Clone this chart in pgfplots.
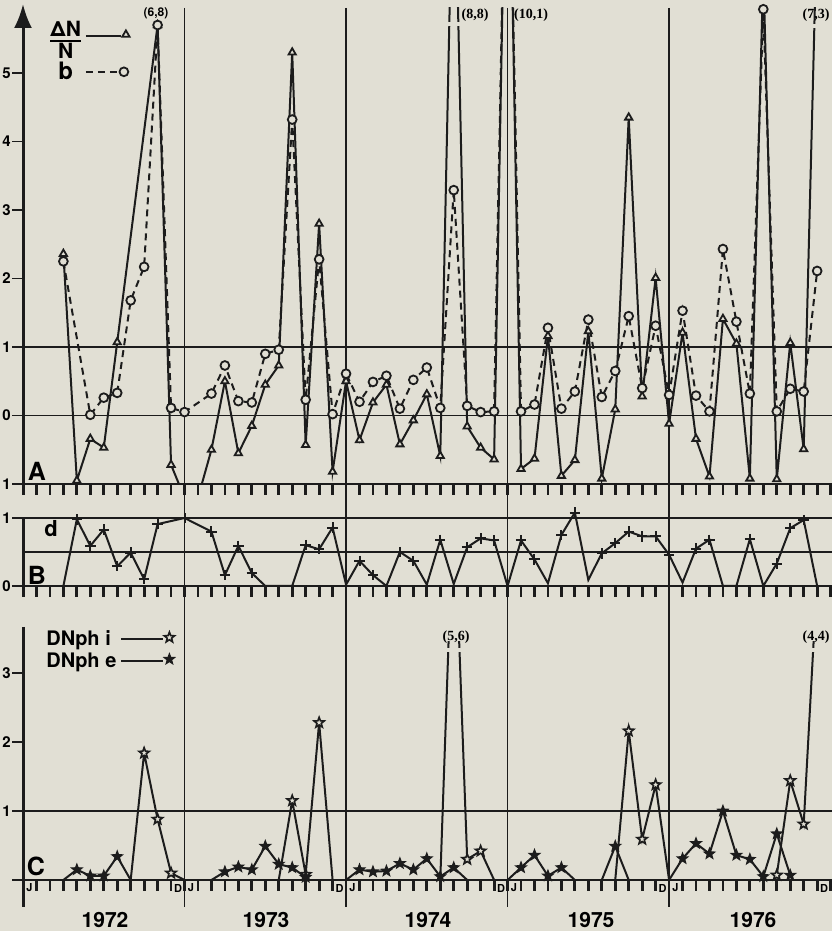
\documentclass[border=0pt]{standalone}
\usepackage{pgfplots}
\pgfplotsset{compat=1.18}
\usepackage{pgfplotstable}
\usepackage{fontspec}
\setmainfont{TeX Gyre Heros}
\newfontfamily\serifb{Liberation Serif}
\usetikzlibrary{arrows.meta}
\definecolor{bg}{RGB}{225,223,212}
\definecolor{ink}{RGB}{28,28,28}

\pgfdeclareplotmark{pstar}{%
 \pgfpathmoveto{\pgfpointpolar{90}{\pgfplotmarksize}}%
 \pgfpathlineto{\pgfpointpolar{126}{0.42\pgfplotmarksize}}%
 \pgfpathlineto{\pgfpointpolar{162}{\pgfplotmarksize}}%
 \pgfpathlineto{\pgfpointpolar{198}{0.42\pgfplotmarksize}}%
 \pgfpathlineto{\pgfpointpolar{234}{\pgfplotmarksize}}%
 \pgfpathlineto{\pgfpointpolar{270}{0.42\pgfplotmarksize}}%
 \pgfpathlineto{\pgfpointpolar{306}{\pgfplotmarksize}}%
 \pgfpathlineto{\pgfpointpolar{342}{0.42\pgfplotmarksize}}%
 \pgfpathlineto{\pgfpointpolar{18}{\pgfplotmarksize}}%
 \pgfpathlineto{\pgfpointpolar{54}{0.42\pgfplotmarksize}}%
 \pgfpathclose
 \pgfusepathqfillstroke
}

\pgfplotsset{
 legtri/.style={legend image code/.code={\draw[ink,line width=1pt] (0pt,0pt) -- (17.5pt,0pt);
     \draw[##1] plot coordinates {(20pt,0.8pt)};}},
 legcirc/.style={legend image code/.code={\draw[ink,line width=1pt,dash pattern=on 3.5pt off 2.5pt] (0pt,0pt) -- (16pt,0pt);
     \draw[##1] plot coordinates {(19pt,0pt)};}},
 legstar/.style={legend image code/.code={\draw[ink,line width=1pt] (0pt,0pt) -- (21pt,0pt);
     \draw[##1] plot coordinates {(24pt,1pt)};}},
 panel/.style={hide axis, x=6.73pt, xmin=0, xmax=60,
  enlargelimits=false, clip mode=individual, anchor=south west,
  unbounded coords=jump}
}

% month index k = 12*(year-1972) + (month-1)
\pgfplotstableread{
k v
3 2.36
4 -0.95
5 -0.34
6 -0.47
7 1.07
10 5.7
11 -0.72
12 -1.2
13 -1.2
14 -0.5
15 0.5
16 -0.55
17 -0.15
18 0.45
19 0.73
20 5.3
21 -0.43
22 2.8
23 -0.82
24 0.5
25 -0.36
26 0.19
27 0.45
28 -0.42
29 -0.07
30 0.31
31 -0.59
32 8.8
33 -0.16
34 -0.47
35 -0.64
36 10.1
37 -0.78
38 -0.63
39 1.16
40 -0.88
41 -0.65
42 1.23
43 -0.92
44 0.09
45 4.35
46 0.28
47 2.01
48 -0.12
49 1.21
50 -0.34
51 -0.89
52 1.41
53 1.05
54 -0.92
55 6.5
56 -0.93
57 1.06
58 -0.49
59 7.3
}\dN

\pgfplotstableread{
k v
3 2.25
5 0.01
6 0.26
7 0.33
8 1.68
9 2.17
10 5.7
11 0.11
12 0.05
14 0.32
15 0.73
16 0.21
17 0.19
18 0.9
19 0.96
20 4.32
21 0.23
22 2.28
23 0.02
24 0.61
25 0.2
26 0.49
27 0.58
28 0.1
29 0.52
30 0.7
31 0.11
32 3.29
33 0.14
34 0.05
35 0.06
36 10.1
37 0.06
38 0.16
39 1.28
40 0.1
41 0.35
42 1.4
43 0.27
44 0.65
45 1.45
46 0.4
47 1.31
48 0.3
49 1.53
50 0.29
51 0.06
52 2.43
53 1.37
54 0.32
55 5.93
56 0.06
57 0.39
58 0.35
59 2.11
}\bb

\pgfplotstableread{
k v m
3 0 0
4 0.98 1
5 0.59 1
6 0.83 1
7 0.29 1
8 0.49 1
9 0.1 1
10 0.91 1
12 1.0 1
14 0.8 1
15 0.16 1
16 0.59 1
17 0.19 1
18 0 0
20 0 0
21 0.6 1
22 0.54 1
23 0.86 1
24 0.02 0
25 0.37 1
26 0.16 1
27 0 0
28 0.5 1
29 0.37 1
30 0.02 0
31 0.68 1
32 0.03 0
33 0.57 1
34 0.7 1
35 0.67 1
36 0 0
37 0.67 1
38 0.39 1
39 0.04 0
40 0.75 1
41 1.08 1
42 0.09 0
43 0.48 1
44 0.63 1
45 0.8 1
46 0.73 1
47 0.73 1
48 0.46 1
49 0.05 0
50 0.55 1
51 0.68 1
52 0 0
53 0 0
54 0.69 1
55 0 0
56 0.33 1
57 0.85 1
58 0.97 1
59 0 0
}\dd

\pgfplotstableread{
k v m
3 0 0
4 0.15 1
5 0.06 1
6 0.06 1
7 0.34 1
8 0 0
nan nan 0
14 0 0
15 0.12 1
16 0.19 1
17 0.15 1
18 0.49 1
19 0.23 1
20 0.18 1
21 0.04 1
nan nan 0
24 0 0
25 0.15 1
26 0.12 1
27 0.13 1
28 0.24 1
29 0.15 1
30 0.31 1
31 0.05 1
32 0.18 1
33 0 0
nan nan 0
36 0 0
37 0.18 1
38 0.36 1
39 0.06 1
40 0.18 1
41 0 0
nan nan 0
43 0 0
44 0.49 1
45 0 0
nan nan 0
48 0 0
49 0.31 1
50 0.53 1
51 0.38 1
52 1.0 1
53 0.36 1
54 0.3 1
55 0.05 1
56 0.67 1
57 0.07 1
}\De

\pgfplotstableread{
k v m
8 0 0
9 1.84 1
10 0.88 1
11 0.1 1
12 0 0
nan nan 0
19 0 0
20 1.15 1
21 0.08 1
22 2.28 1
23 0 0
nan nan 0
31 0 0
32 5.6 0
33 0.3 1
34 0.42 1
35 0 0
nan nan 0
44 0 0
45 2.16 1
46 0.59 1
47 1.38 1
48 0 0
nan nan 0
56 0.07 1
57 1.44 1
58 0.81 1
59 4.4 0
}\Di

\begin{document}
\begin{tikzpicture}
\useasboundingbox (0,0) rectangle (416pt,465.5pt);
\fill[bg] (0,0) rectangle (416pt,465.5pt);
% ---------- frame and grid (pixel coordinates) ----------
\begin{scope}[x=0.5pt,y=-0.5pt,yshift=465.5pt]
 \tikzset{g/.style={ink,line width=0.95pt}}
 % panel A
 \draw[g] (12,347) -- (832,347);
 \draw[g] (12,415.5) -- (832,415.5);
 \draw[g] (12,484) -- (832,484);
 \foreach \yy in {73,141.5,210,278.5} \draw[g] (12,\yy) -- (23,\yy);
 % panel B
 \draw[g] (12,518) -- (832,518);
 \draw[g] (23,552) -- (832,552);
 \draw[g] (12,586) -- (832,586);
 % panel C
 \draw[g] (12,811) -- (832,811);
 \draw[g] (12,880) -- (832,880);
 \foreach \yy in {673,742} \draw[g] (12,\yy) -- (23,\yy);
 % monthly ticks: a dashed band whose dashes are the ticks (period = one month)
 \tikzset{tk/.style={ink, line width=5.5pt, line cap=butt, dash pattern=on 1.4pt off 5.33pt}}
 \draw[tk] (21.6,489.5) -- (834,489.5);
 \draw[tk] (21.6,591.5) -- (834,591.5);
 \draw[tk] (21.6,885.5) -- (834,885.5);
 % year separators
 \foreach \kk in {12,24,36,48} \draw[ink,line width=0.8pt] ({23+13.46*\kk},8) -- ({23+13.46*\kk},907);
 % spines
 \draw[ink,line width=1.5pt,-{Latex[length=12pt,width=9pt]}] (23,495) -- (23,4);
 \draw[ink,line width=1.5pt] (23,518) -- (23,597);
 \draw[ink,line width=1.5pt] (23,627) -- (23,907);
\end{scope}

% ---------- panel A ----------
\begin{axis}[panel, y=34.25pt, ymin=-1, ymax=5.95, at={(11.5pt,223.5pt)},
  legend plot pos=right, legend cell align=center,
  legend style={draw=none, fill=none, at={(0.031,0.978)}, anchor=north west,
    font=\fontsize{10.5}{11}\selectfont\bfseries, inner sep=0pt, row sep=3pt,
    column sep=1pt, nodes={inner sep=1pt}}]
 \addplot[forget plot, ink, line width=1pt] table[x=k,y=v] {\dN};
 \addplot[forget plot, ink, line width=1pt, dash pattern=on 3.5pt off 2.5pt] table[x=k,y=v] {\bb};
 \addplot[only marks, mark=triangle*, mark size=2.1pt,
   mark options={fill=bg, draw=ink, line width=0.9pt, solid},
   restrict y to domain=-1.1:6, legtri] table[x=k,y=v] {\dN};
 \addlegendentry{{\setlength{\arrayrulewidth}{1pt}\begin{tabular}{@{}c@{}}ΔN\\[-1.5pt]\hline\rule{0pt}{8.5pt}N\end{tabular}}}
 \addplot[only marks, mark=*, mark size=2.2pt,
   mark options={fill=bg, draw=ink, line width=0.9pt, solid},
   restrict y to domain=-1.1:6, legcirc] table[x=k,y=v] {\bb};
 \addlegendentry{\fontsize{12}{12}\selectfont b}
\end{axis}

% ---------- panel B ----------
\begin{axis}[panel, y=34pt, ymin=-0.2, ymax=1.2, at={(11.5pt,165.7pt)}]
 \addplot[ink, line width=1pt] table[x=k,y=v] {\dd};
 \addplot[only marks, mark=+, mark size=2.6pt, mark options={ink, line width=1pt},
   restrict expr to domain={\thisrow{m}}{0.5:1.5}] table[x=k,y=v] {\dd};
\end{axis}

% ---------- panel C ----------
\begin{axis}[panel, y=34.5pt, ymin=-0.4, ymax=3.45, at={(11.5pt,11.7pt)},
  legend plot pos=right, legend cell align=left,
  legend style={draw=none, fill=none, at={(0.026,1.052)}, anchor=north west,
    font=\fontsize{10}{11}\selectfont\bfseries, inner sep=0pt, row sep=0pt,
    column sep=1pt, nodes={inner sep=1pt}}]
 \addplot[forget plot, ink, line width=1pt] table[x=k,y=v] {\Di};
 \addplot[forget plot, ink, line width=1pt] table[x=k,y=v] {\De};
 \addplot[only marks, mark=pstar, mark size=2.7pt,
   mark options={fill=bg, draw=ink, line width=0.8pt, solid},
   restrict expr to domain={\thisrow{m}}{0.5:1.5}, legstar] table[x=k,y=v] {\Di};
 \addlegendentry{DNph i}
 \addplot[only marks, mark=pstar, mark size=2.7pt,
   mark options={fill=ink, draw=ink, line width=0.6pt, solid},
   restrict expr to domain={\thisrow{m}}{0.5:1.5}, legstar] table[x=k,y=v] {\De};
 \addlegendentry{DNph e}
\end{axis}

% ---------- texts and break marks ----------
\begin{scope}[x=0.5pt,y=-0.5pt,yshift=465.5pt]
 % breaks in off-scale lines
 \fill[bg] (443,22) rectangle (463,26);
 \fill[bg] (810,24) rectangle (824,28);
 \fill[bg] (446,648) rectangle (466,652);
 \fill[bg] (810,648) rectangle (826,652);
 \tikzset{tl/.style={anchor=east, inner sep=0pt, font=\fontsize{7.5}{8}\selectfont\bfseries}}
 \node[tl] at (11,73) {5};
 \node[tl] at (11,141.5) {4};
 \node[tl] at (11,210) {3};
 \node[tl] at (11,278.5) {2};
 \node[tl] at (11,347) {1};
 \node[tl] at (11,415.5) {0};
 \node[tl] at (11,484) {1};
 \node[tl] at (11,518) {1};
 \node[tl] at (11,586) {0};
 \node[tl] at (11,673) {3};
 \node[tl] at (11,742) {2};
 \node[tl] at (11,811) {1};
 \tikzset{pl/.style={inner sep=0pt, font=\fontsize{12.5}{13}\selectfont\bfseries}}
 \node[pl] at (37,471) {A};
 \node[pl] at (37,575) {B};
 \node[pl] at (36,866) {C};
 \node[inner sep=0pt, font=\fontsize{11}{12}\selectfont\bfseries] at (51,529) {d};
 % month letters and years
 \foreach \y in {0,...,4} {
   \node[inner sep=0.6pt, fill=bg, font=\fontsize{5.5}{6}\selectfont\bfseries] at ({23+161.5*\y+6.5},888) {J};
   \node[inner sep=0.6pt, fill=bg, font=\fontsize{5.5}{6}\selectfont\bfseries] at ({23+161.5*(\y+1)-6.5},888) {D};
 }
 \tikzset{yr/.style={inner sep=0pt, font=\fontsize{10.5}{11}\selectfont\bfseries}}
 \node[yr] at (105,920) {1972};
 \node[yr] at (266,920) {1973};
 \node[yr] at (428,920) {1974};
 \node[yr] at (591,920) {1975};
 \node[yr] at (753,920) {1976};
 % off-scale values
 \node[inner sep=0pt, font=\fontsize{6}{6}\selectfont\bfseries] at (156,13) {(6,8)};
 \tikzset{ov/.style={inner sep=0pt, font=\serifb\fontsize{7}{7}\selectfont\bfseries}}
 \node[ov] at (475,15) {(8,8)};
 \node[ov] at (531,15) {(10,1)};
 \node[ov] at (816,15) {(7,3)};
 \node[ov] at (456,637) {(5,6)};
 \node[ov] at (816,637) {(4,4)};
\end{scope}
\end{tikzpicture}
\end{document}
